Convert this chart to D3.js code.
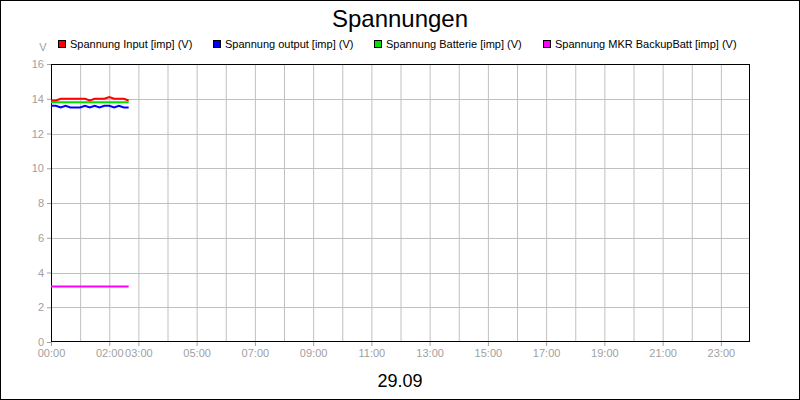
<!DOCTYPE html>
<html><head><meta charset="utf-8">
<script src="https://cdn.jsdelivr.net/npm/d3@7"></script>
<style>body{margin:0;background:#fff}svg{display:block;font-family:"Liberation Sans",Arial,sans-serif}</style>
</head><body><svg id="c" width="800" height="400"></svg>
<script>
// data: hours since midnight, 10 min steps
var times = d3.range(17).map(function(i){ return i/6; });
var input = [13.9,13.9,14.0,14.0,14.0,14.0,14.0,14.0,13.9,14.0,14.0,14.0,14.1,14.0,14.0,14.0,13.9];
var output = [13.6,13.6,13.5,13.6,13.5,13.5,13.5,13.6,13.5,13.6,13.5,13.6,13.6,13.5,13.6,13.5,13.5];
var batterie = [13.8,13.8,13.8,13.8,13.8,13.8,13.8,13.8,13.8,13.8,13.8,13.8,13.8,13.8,13.8,13.8,13.8];
var backup = [3.2,3.2,3.2,3.2,3.2,3.2,3.2,3.2,3.2,3.2,3.2,3.2,3.2,3.2,3.2,3.2,3.2];
var seriesNames = ["Spannung Input [imp] (V)","Spannung output [imp] (V)","Spannung Batterie [imp] (V)","Spannung MKR BackupBatt [imp] (V)"];
var colors = ["#ff0000","#0000ff","#00e000","#ff00ff"];
var xTicks = [0,2,3,5,7,9,11,13,15,17,19,21,23];
var yTicks = [0,2,4,6,8,10,12,14,16];

var svg = d3.select("#c");
svg.append("rect").attr("x",0.5).attr("y",0.5).attr("width",799).attr("height",399).attr("fill","#fff").attr("stroke","#000");

var x = d3.scaleLinear().domain([0,24]).range([51,750]);
var y = d3.scaleLinear().domain([0,16]).range([342,64]);

// grid
svg.append("g").selectAll("line").data(d3.range(1,24)).join("line")
	.attr("x1",function(d){return x(d)+0.5;}).attr("x2",function(d){return x(d)+0.5;})
	.attr("y1",64).attr("y2",342).attr("stroke","#c0c0c0");
svg.append("g").selectAll("line").data(yTicks.slice(1,-1)).join("line")
	.attr("x1",51).attr("x2",750)
	.attr("y1",function(d){return Math.round(y(d))+0.5;}).attr("y2",function(d){return Math.round(y(d))+0.5;})
	.attr("stroke","#c0c0c0");

// axes
var xa = svg.append("g").attr("transform","translate(0,342)")
	.call(d3.axisBottom(x).tickValues(xTicks).tickSize(4).tickFormat(function(d){return (d<10?"0":"")+d+":00";}));
var ya = svg.append("g").attr("transform","translate(51,0)")
	.call(d3.axisLeft(y).tickValues(yTicks).tickSize(4));
[xa,ya].forEach(function(a){
	a.select(".domain").remove();
	a.selectAll("line").attr("stroke","#a0a0a0");
	a.selectAll("text").attr("fill","#a0a0a0").attr("font-size",11).attr("font-family","Liberation Sans, Arial");
});
svg.append("text").attr("x",43).attr("y",51).attr("text-anchor","middle").attr("fill","#a0a0a0").attr("font-size",11).text("V");

svg.append("rect").attr("x",51.5).attr("y",64.5).attr("width",698).attr("height",277).attr("fill","none").attr("stroke","#000");

// lines
var line = d3.line().x(function(d){return x(d[0]);}).y(function(d){return y(d[1]);});
[backup,batterie,output,input].forEach(function(vals){
	var i = [input,output,batterie,backup].indexOf(vals);
	svg.append("path").datum(times.map(function(t,k){return [t,vals[k]];}))
		.attr("d",line).attr("fill","none").attr("stroke",colors[i]).attr("stroke-width",2);
});

// legend
var lx = [58,213,374,543];
seriesNames.forEach(function(n,i){
	svg.append("rect").attr("x",lx[i]+0.5).attr("y",40.5).attr("width",7).attr("height",7).attr("fill",colors[i]).attr("stroke","#000");
	svg.append("text").attr("x",lx[i]+12).attr("y",48).attr("font-size",11).attr("fill","#000").text(n);
});

svg.append("text").attr("x",400).attr("y",27).attr("text-anchor","middle").attr("font-size",24).text("Spannungen");
svg.append("text").attr("x",400).attr("y",387).attr("text-anchor","middle").attr("font-size",18).text("29.09");
</script></body></html>
